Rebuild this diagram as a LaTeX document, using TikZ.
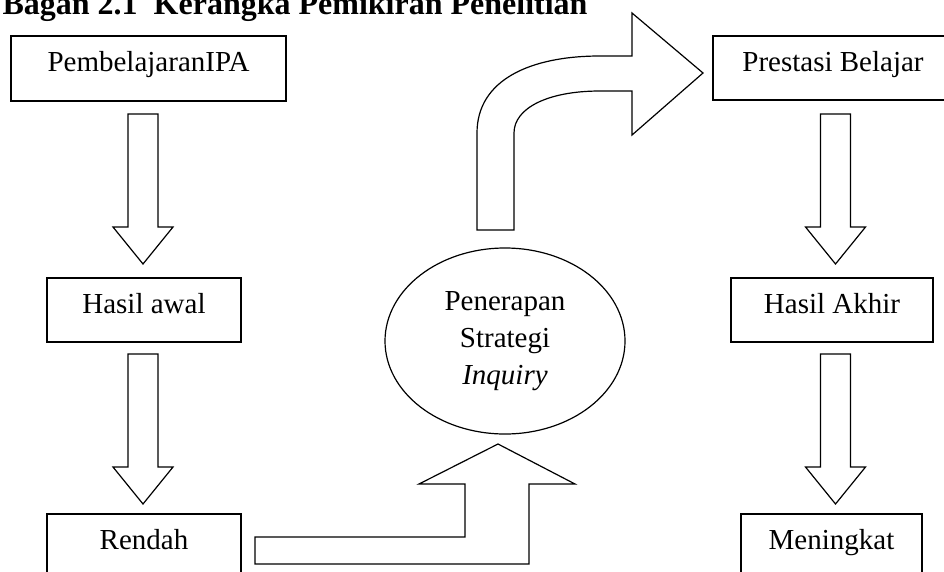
\documentclass[tikz,border=0pt]{standalone}
\usepackage{fontspec}
\setmainfont{Liberation Serif}
\usetikzlibrary{shapes.geometric}
\newcommand\blockdown[4]{%
  \draw[blk] ({#1-15},#2) -- ({#1+15},#2) -- ({#1+15},#3) -- ({#1+30},#3)
    -- (#1,#4) -- ({#1-30},#3) -- ({#1-15},#3) -- cycle;}
\begin{document}
\begin{tikzpicture}[x=0.75pt,y=-0.75pt,line width=0.9pt,line join=miter,
  txt/.style={font=\fontsize{21.75}{27.75}\selectfont},
  box/.style={draw,rectangle,txt,minimum height=48pt,inner sep=0pt,
    text height=0.7em,text depth=0.25em},
  blk/.style={draw,fill=white}]
\useasboundingbox (0,0) rectangle (944,571);
\fill[white] (0,0) rectangle (944,571);
\clip (0,0) rectangle (944,571);

% title
\node[anchor=base west,inner sep=0pt,font=\fontsize{24}{28}\selectfont\bfseries] (title) at (2,14) {Bagan 2.1\ \ Kerangka Pemikiran Penelitian};

% left column
\node[box,minimum width=206.25pt,minimum height=48.75pt] (pem) at (148.5,68.5) {PembelajaranIPA};
\node[box,minimum width=145.5pt] (hawal) at (144,310) {Hasil awal};
\node[box,minimum width=145.5pt] (rendah) at (144,546) {Rendah};
\blockdown{143}{114}{227}{264}
\blockdown{143}{354}{467}{504}

% right column
\node[box,minimum width=180pt] (prestasi) at (833,68) {Prestasi Belajar};
\node[box,minimum width=151.5pt] (hakhir) at (832,310) {Hasil Akhir};
\node[box,minimum width=135.75pt] (meningkat) at (831.5,546) {Meningkat};
\blockdown{835.5}{114}{227}{264}
\blockdown{835.5}{354}{467}{504}

% ellipse
\node[draw,ellipse,txt,align=center,minimum width=180pt,minimum height=139.5pt,inner sep=0pt] (inq) at (505,341)
  {Penerapan\\Strategi\\\textit{Inquiry}};

% L-shaped arrow from Rendah up to ellipse
\draw[blk] (255,537) -- (465,537) -- (465,484) -- (419,484) -- (498,444)
  -- (575,484) -- (529,484) -- (529,564) -- (255,564) -- cycle;

% curved arrow to Prestasi Belajar
\draw[blk] (477,230) -- (477,133) .. controls (477,80) and (530,56) .. (600,56)
  -- (632,56) -- (632,13) -- (703,73) -- (632,135) -- (632,91) -- (600,91)
  .. controls (548,91) and (514,108) .. (514,133) -- (514,230) -- cycle;
\end{tikzpicture}
\end{document}
